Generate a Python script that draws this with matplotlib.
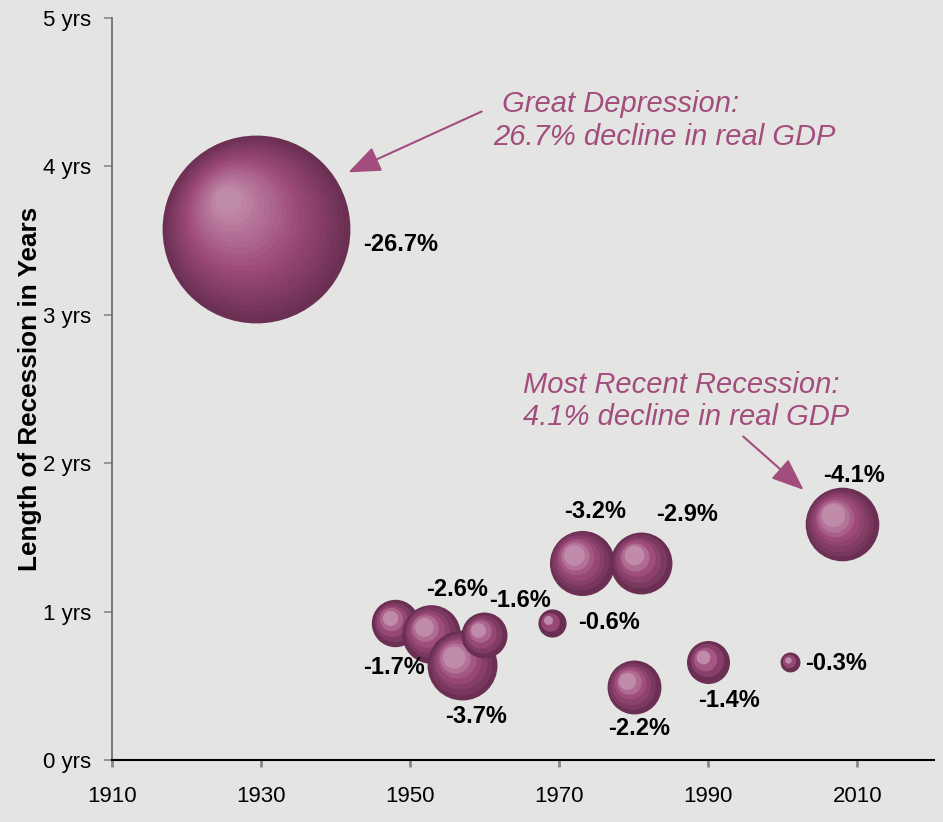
import numpy as np
import matplotlib
matplotlib.use("Agg")
import matplotlib.pyplot as plt
from matplotlib.transforms import offset_copy
from matplotlib.colors import to_rgb

plt.rcParams['font.family'] = ['Liberation Sans', 'DejaVu Sans']

# recession start year, length in years, decline in real GDP (%)
years = [1929.3, 1948.0, 1952.8, 1957.0, 1959.9, 1969.0, 1973.0, 1980.0, 1981.0, 1990.0, 2001.0, 2007.9]
lengths = [3.58, 0.92, 0.85, 0.64, 0.84, 0.92, 1.33, 0.49, 1.33, 0.66, 0.66, 1.59]
declines = [26.7, 1.7, 2.6, 3.7, 1.6, 0.6, 3.2, 2.2, 2.9, 1.4, 0.3, 4.1]

# label offsets (points) from bubble centre
label_dx = [104, -1, 19, 10, 26, 41, 10, 4, 33, 15, 33, 9]
label_dy = [-11, -32, 32, -37, 25, 1, 37, -30, 35, -28, -1, 35]

bg = '#e4e5e3'
pink = '#a24d7e'
edge_c = np.array(to_rgb('#6a2f52'))
mid_c = np.array(to_rgb('#9e4b7a'))
core_c = np.array(to_rgb('#c08aa9'))


def shade(t, tmin):
    # t = 1 at rim, tmin at the highlight
    if t > 0.6:
        f = (t - 0.6) / 0.4
        return mid_c + (edge_c - mid_c) * f
    f = (t - tmin) / (0.6 - tmin)
    return core_c + (mid_c - core_c) * max(f, 0)


fig = plt.figure(figsize=(9.43, 8.22), dpi=100, facecolor=bg)
ax = fig.add_axes([0.1188, 0.0754, 0.8717, 0.9027], facecolor=bg)

k = 685.0
for x, y, v in zip(years, lengths, declines):
    s = k * v
    r_pt = np.sqrt(s) / 2
    n = int(max(3, min(20, r_pt / 3.2)))
    tmin = 0.14 if r_pt > 40 else 0.32
    for t in np.linspace(1.0, tmin, n):
        off = 0.35 * (1 - t) * r_pt
        tr = offset_copy(ax.transData, fig=fig, x=-off, y=off, units='points')
        ax.scatter([x], [y], s=s * t ** 2, color=shade(t, tmin), linewidths=0,
                   transform=tr, zorder=3)

for x, y, v, dx, dy in zip(years, lengths, declines, label_dx, label_dy):
    ax.annotate(f'-{v}%', (x, y), xytext=(dx, dy), textcoords='offset points',
                ha='center', va='center', fontsize=17, fontweight='bold',
                color='black', zorder=5)

ax.text(1961.2, 4.31, ' Great Depression:\n26.7% decline in real GDP',
        fontsize=21, style='italic', color=pink, ha='left', va='center',
        linespacing=1.2)
ax.annotate('', xy=(1941.7, 3.96), xytext=(1959.6, 4.37),
            arrowprops=dict(arrowstyle='-|>,head_length=1.0,head_width=0.4',
                            mutation_scale=20, color=pink, lw=1.5,
                            shrinkA=0, shrinkB=0))

ax.text(1965.1, 2.42, 'Most Recent Recession:\n4.1% decline in real GDP',
        fontsize=21, style='italic', color=pink, ha='left', va='center',
        linespacing=1.2)
ax.annotate('', xy=(2002.8, 1.82), xytext=(1994.7, 2.18),
            arrowprops=dict(arrowstyle='-|>,head_length=1.0,head_width=0.4',
                            mutation_scale=20, color=pink, lw=1.5,
                            shrinkA=0, shrinkB=0))

ax.set_xlim(1910, 2020.3)
ax.set_ylim(0, 5)
ax.set_xticks(np.arange(1910, 2011, 20))
ax.set_yticks(np.arange(0, 6, 1))
ax.set_yticklabels([f'{i} yrs' for i in range(6)])

for side in ['top', 'right']:
    ax.spines[side].set_visible(False)
ax.spines['left'].set_color('#666666')
ax.spines['left'].set_linewidth(1.2)
ax.spines['bottom'].set_color('black')
ax.spines['bottom'].set_linewidth(1.5)

ax.tick_params(axis='x', length=5, width=2, color='#888888', pad=14, labelsize=16)
ax.tick_params(axis='y', length=6, width=1.2, color='#888888', pad=9, labelsize=16)

ax.set_ylabel('Length of Recession in Years', fontsize=18.8, fontweight='bold', labelpad=1)

fig.savefig('out.png', dpi=100, facecolor=bg)
